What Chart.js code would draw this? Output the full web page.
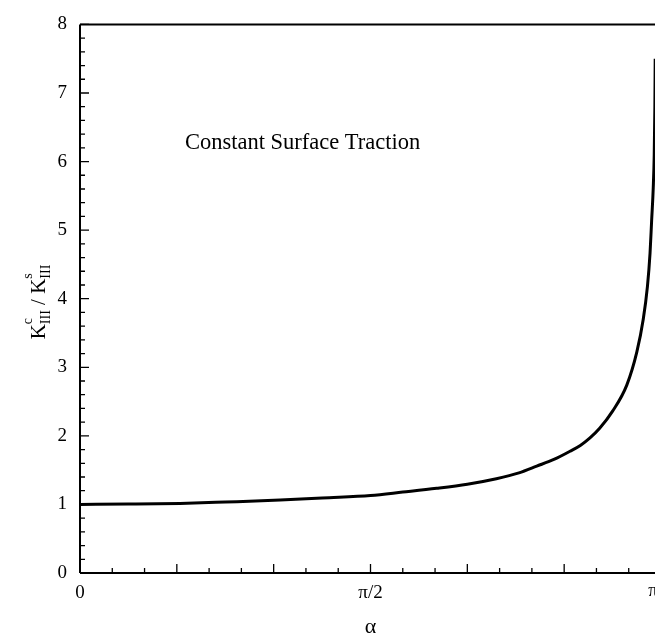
<!DOCTYPE html>
<html><head><meta charset="utf-8">
<script src="https://cdn.jsdelivr.net/npm/chart.js@4"></script>
<style>
html,body{margin:0;padding:0;background:#fff;overflow:hidden}
#wrap{width:655px;height:634px;overflow:hidden;position:relative;background:#fff}
canvas{display:block}
</style></head>
<body><div id="wrap"><canvas id="c" width="680" height="634" style="width:680px;height:634px"></canvas></div>
<script>
// crack angle alpha in degrees (0 .. 180 = pi)
const alphaDeg = [0, 15, 31, 45, 62, 75, 90, 100, 110.5, 120, 129, 136, 141.5, 147, 151.8, 155, 158, 161, 165, 169.4, 172.5, 174.5, 175.8, 176.6, 177.1, 177.6, 177.9, 178.1, 178.2];
// K_III^c / K_III^s
const ratio = [1.0, 1.005, 1.015, 1.035, 1.063, 1.095, 1.13, 1.18, 1.235, 1.295, 1.375, 1.46, 1.558, 1.66, 1.775, 1.86, 1.97, 2.11, 2.36, 2.74, 3.22, 3.70, 4.18, 4.66, 5.14, 5.62, 6.10, 6.8, 7.5];
const xTickValues = [0, 90, 180];
const xTickLabels = ['0', 'π/2', 'π'];
const yTickValues = [0, 1, 2, 3, 4, 5, 6, 7, 8];
const xTitle = 'α';
const annotationText = 'Constant Surface Traction';
const annotationAt = [32.5, 6.27];

const SERIF = '"Liberation Serif", "DejaVu Serif", serif';

const framePlugin = {
  id: 'frame',
  afterDraw(chart) {
    const ctx = chart.ctx, a = chart.chartArea;
    const xs = chart.scales.x, ys = chart.scales.y;
    ctx.save();
    ctx.strokeStyle = '#000';
    ctx.lineWidth = 2;
    ctx.beginPath();
    ctx.moveTo(a.left, a.top); ctx.lineTo(a.right, a.top);
    ctx.moveTo(a.left, a.top); ctx.lineTo(a.left, a.bottom);
    ctx.moveTo(a.left, a.bottom); ctx.lineTo(a.right, a.bottom);
    ctx.moveTo(a.right, a.top); ctx.lineTo(a.right, a.bottom);
    ctx.stroke();
    ctx.lineWidth = 1.3;
    ctx.beginPath();
    for (let i = 0; i <= 40; i++) {
      const y = ys.getPixelForValue(i / 5);
      const len = i % 5 === 0 ? 9 : 5;
      ctx.moveTo(a.left, y); ctx.lineTo(a.left + len, y);
    }
    for (let i = 0; i <= 18; i++) {
      const x = xs.getPixelForValue(i * 10);
      const len = i % 3 === 0 ? 9 : 5;
      ctx.moveTo(x, a.bottom); ctx.lineTo(x, a.bottom - len);
    }
    ctx.stroke();
    ctx.fillStyle = '#000';
    // last x tick label (pi), pulled inside the visible window
    ctx.font = '19px ' + SERIF;
    ctx.textAlign = 'center';
    ctx.textBaseline = 'top';
    ctx.fillText(xTickLabels[2], xs.getPixelForValue(180) - 8, a.bottom + 9);
    // annotation
    ctx.font = '22.5px ' + SERIF;
    ctx.textBaseline = 'middle';
    ctx.textAlign = 'left';
    ctx.fillText(annotationText, xs.getPixelForValue(annotationAt[0]), ys.getPixelForValue(annotationAt[1]));
    // y title with sub/superscripts
    ctx.translate(45, 302);
    ctx.rotate(-Math.PI / 2);
    ctx.textBaseline = 'alphabetic';
    const big = '21px ' + SERIF, small = '14px ' + SERIF;
    const parts = [
      ['K', 'III', 'c'], [' / '], ['K', 'III', 's']
    ];
    let total = 0;
    const widths = parts.map(p => {
      ctx.font = big; let w = ctx.measureText(p[0]).width;
      if (p.length > 1) { ctx.font = small; w += Math.max(ctx.measureText(p[1]).width, ctx.measureText(p[2]).width); }
      total += w; return w;
    });
    let x = -total / 2;
    parts.forEach((p, i) => {
      ctx.font = big; ctx.fillText(p[0], x, 0);
      const kw = ctx.measureText(p[0]).width;
      if (p.length > 1) {
        ctx.font = small;
        ctx.fillText(p[1], x + kw, 5);
        ctx.fillText(p[2], x + kw, -13);
      }
      x += widths[i];
    });
    ctx.restore();
  }
};

const points = alphaDeg.map((a, i) => ({ x: a, y: ratio[i] }));

new Chart(document.getElementById('c'), {
  type: 'line',
  data: { datasets: [{ data: points, borderColor: '#000', borderWidth: 3, pointRadius: 0, fill: false, cubicInterpolationMode: 'monotone' }] },
  options: {
    responsive: false, animation: false, devicePixelRatio: 1,
    layout: { padding: { left: 0, right: 19, top: 18, bottom: 0 } },
    plugins: { legend: { display: false }, tooltip: { enabled: false } },
    scales: {
      x: {
        type: 'linear', min: 0, max: 180,
        afterBuildTicks: s => { s.ticks = xTickValues.map(v => ({ value: v })); },
        ticks: { callback: v => (v === 180 ? '' : xTickLabels[xTickValues.indexOf(v)]), font: { family: SERIF, size: 19 }, color: '#000', padding: 9, maxRotation: 0, autoSkip: false },
        grid: { display: false, drawTicks: false },
        border: { display: false },
        title: { display: true, text: xTitle, font: { family: SERIF, size: 22, lineHeight: 0.64 }, color: '#000', padding: { top: 0, bottom: 0 } },
        afterFit: s => { s.height = 61; }
      },
      y: {
        min: 0, max: 8,
        afterBuildTicks: s => { s.ticks = yTickValues.map(v => ({ value: v })); },
        ticks: { font: { family: SERIF, size: 19 }, color: '#000', padding: 13 },
        grid: { display: false, drawTicks: false },
        border: { display: false },
        afterFit: s => { s.width = 80; }
      }
    }
  },
  plugins: [framePlugin]
});
</script>
</body></html>
